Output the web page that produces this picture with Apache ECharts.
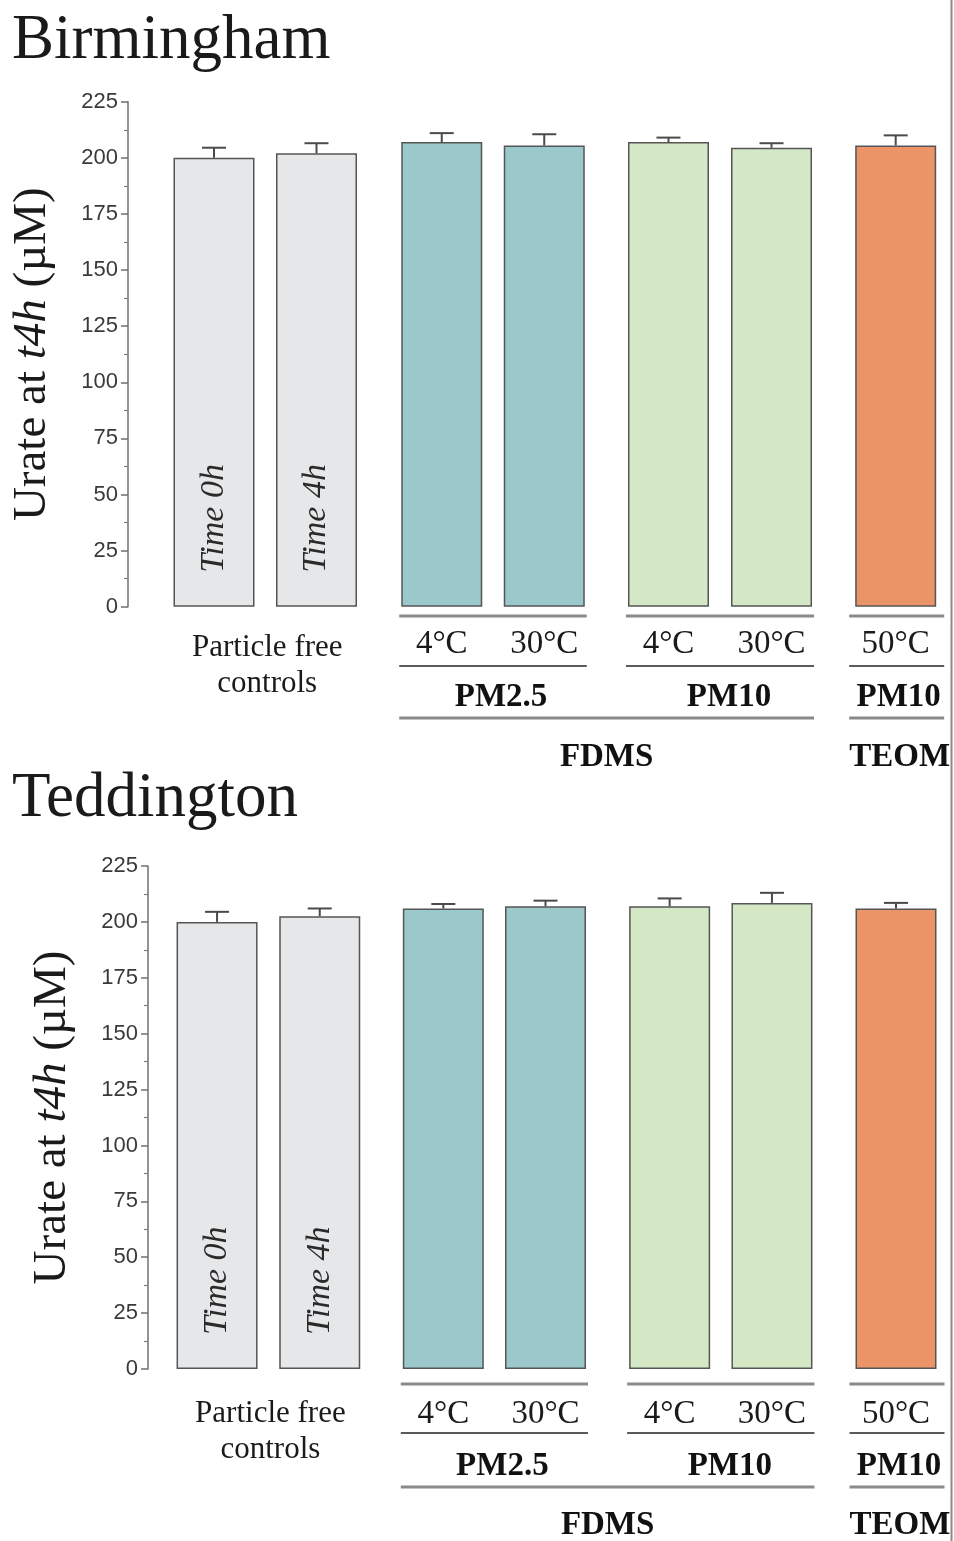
<!DOCTYPE html>
<html>
<head>
<meta charset="utf-8">
<script src="https://cdn.jsdelivr.net/npm/echarts@6/dist/echarts.min.js"></script>
<style>
  html, body { margin: 0; padding: 0; background: #fff; }
  #chart { width: 954px; height: 1541px; }
</style>
</head>
<body>
<div id="chart"></div>
<script>
// Treatment groups, conditions within each group, and samplers
const groupLabels = ['Particle free\ncontrols', 'PM2.5', 'PM10', 'PM10'];
const conditionLabels = [['Time 0h', 'Time 4h'], ['4°C', '30°C'], ['4°C', '30°C'], ['50°C']];
const instrumentLabels = ['FDMS', 'TEOM'];
const siteNames = ['Birmingham', 'Teddington'];

// Urate remaining at 4 h (µM): mean and error, in condition order
const birminghamMean = [200, 202, 207, 205.5, 207, 204.5, 205.5];
const birminghamErr = [4.5, 4.5, 4, 5, 2, 2, 4.5];
const teddingtonMean = [200, 202.5, 206, 207, 207, 208.5, 206];
const teddingtonErr = [4.5, 3.5, 2, 2.5, 3.5, 4.5, 2.5];

// Value axis
const yMin = 0, yMax = 225, yStep = 25;

// ---- styling / layout ----
const groupColors = ['#e6e7e9', '#9bc9cb', '#d4e8c6', '#ea9467'];
const serif = '"Liberation Serif", "DejaVu Serif", serif';
const sans = '"Liberation Sans", Arial, sans-serif';
const BAR_W = 81;

const panels = [
  { name: siteNames[0], mean: birminghamMean, err: birminghamErr,
    axisX: 128, top: 101.7, height: 505,
    boxes: [[162.75, 205], [390.5, 205], [617, 206], [844.2, 103]],
    titleY: 41, nameGap: 72, condGap: 38,
    line1: 616, line2: 666, groupY: 697, line3: 718, instY: 757, pfY: 666 },
  { name: siteNames[1], mean: teddingtonMean, err: teddingtonErr,
    axisX: 148, top: 866, height: 503,
    boxes: [[165.7, 205.4], [392.2, 204.4], [618.5, 204.6], [844.5, 103]],
    titleY: 799, nameGap: 72, condGap: 45,
    line1: 1384, line2: 1433, groupY: 1466, line3: 1487, instY: 1525, pfY: 1432 }
];
const groupLabelShift = [2, 8, 9, 3];
const lineExtend = [[0, 0], [2, 2], [2, 2], [6, 8]];

const grids = [], xAxes = [], yAxes = [], series = [], graphics = [];

function barSpan(box, n) {
  const band = box[1] / n;
  return [box[0] + band / 2 - BAR_W / 2, box[0] + box[1] - band / 2 + BAR_W / 2];
}

panels.forEach((p, pi) => {
  let offset = 0;
  p.boxes.forEach((box, gi) => {
    const cats = conditionLabels[gi];
    const n = cats.length;
    const idx = grids.length;
    const means = p.mean.slice(offset, offset + n);
    const errs = p.err.slice(offset, offset + n);
    offset += n;

    grids.push({ left: box[0], width: box[1], top: p.top, height: p.height,
                 containLabel: false, outerBoundsMode: 'none' });

    xAxes.push({
      type: 'category', gridIndex: idx, data: cats,
      axisLine: { show: false }, axisTick: { show: false },
      axisLabel: {
        show: gi > 0, interval: 0, margin: p.condGap, verticalAlign: 'middle',
        fontFamily: serif, fontSize: 33, color: '#1a1a1a'
      }
    });

    const isFirst = gi === 0;
    yAxes.push({
      type: 'value', gridIndex: idx, min: yMin, max: yMax, interval: yStep,
      show: isFirst,
      offset: isFirst ? box[0] - p.axisX : 0,
      axisLine: { show: true, lineStyle: { color: '#707070', width: 1.5 } },
      axisTick: { show: true, inside: false, length: 7, lineStyle: { color: '#707070', width: 1.5 } },
      minorTick: { show: true, splitNumber: 2, length: 4, lineStyle: { color: '#808080', width: 1.2 } },
      splitLine: { show: false },
      axisLabel: { margin: 10, fontFamily: sans, fontSize: 22, color: '#3a3a3a' },
      name: isFirst ? '{n|Urate at }{i|t4h}{n| (µM)}' : '',
      nameLocation: 'middle', nameGap: p.nameGap,
      nameTextStyle: {
        rich: {
          n: { fontFamily: serif, fontSize: 47, color: '#1a1a1a' },
          i: { fontFamily: serif, fontSize: 47, fontStyle: 'italic', color: '#1a1a1a' }
        }
      }
    });

    series.push({
      type: 'bar', xAxisIndex: idx, yAxisIndex: idx, barWidth: BAR_W,
      data: means,
      itemStyle: { color: groupColors[gi], borderColor: '#555', borderWidth: 1.5 },
      label: {
        show: gi === 0, formatter: '{b}', position: 'insideBottom',
        rotate: 90, align: 'left', verticalAlign: 'middle', distance: 34,
        fontFamily: serif, fontSize: 34, fontStyle: 'italic', color: '#2a2a2a'
      },
      silent: true
    });

    series.push({
      type: 'custom', xAxisIndex: idx, yAxisIndex: idx,
      data: means.map((m, i) => [i, m, errs[i]]),
      encode: { x: 0, y: 1 },
      renderItem: (params, api) => {
        const base = api.coord([api.value(0), api.value(1)]);
        const tip = api.coord([api.value(0), api.value(1) + api.value(2)]);
        const style = { stroke: '#4a4a4a', lineWidth: 2 };
        return { type: 'group', children: [
          { type: 'line', shape: { x1: base[0], y1: base[1], x2: tip[0], y2: tip[1] }, style },
          { type: 'line', shape: { x1: tip[0] - 12, y1: tip[1], x2: tip[0] + 12, y2: tip[1] }, style }
        ] };
      },
      silent: true, z: 3
    });

    // group annotations under the axis
    const span = barSpan(box, n);
    const x1 = span[0] - lineExtend[gi][0], x2 = span[1] + lineExtend[gi][1];
    const cx = box[0] + box[1] / 2 + groupLabelShift[gi];
    if (gi === 0) {
      graphics.push({ type: 'text', x: cx, y: p.pfY, style: {
        text: groupLabels[gi], align: 'center', verticalAlign: 'middle', lineHeight: 36,
        fontFamily: serif, fontSize: 31, fill: '#1a1a1a' } });
    } else {
      graphics.push({ type: 'line', shape: { x1, y1: p.line1, x2, y2: p.line1 },
        style: { stroke: '#8a8a8a', lineWidth: 3 } });
      graphics.push({ type: 'line', shape: { x1, y1: p.line2, x2, y2: p.line2 },
        style: { stroke: '#5a5a5a', lineWidth: 2 } });
      graphics.push({ type: 'text', x: cx, y: p.groupY, style: {
        text: groupLabels[gi], align: 'center', verticalAlign: 'middle',
        fontFamily: serif, fontSize: 33, fontWeight: 'bold', fill: '#111' } });
    }
  });

  // sampler lines and names
  const fd0 = barSpan(p.boxes[1], conditionLabels[1].length);
  const fd1 = barSpan(p.boxes[2], conditionLabels[2].length);
  const te = barSpan(p.boxes[3], conditionLabels[3].length);
  const fdx1 = fd0[0] - 2, fdx2 = fd1[1] + 2;
  const tex1 = te[0] - 6, tex2 = te[1] + 8;
  graphics.push({ type: 'line', shape: { x1: fdx1, y1: p.line3, x2: fdx2, y2: p.line3 },
    style: { stroke: '#8a8a8a', lineWidth: 3 } });
  graphics.push({ type: 'line', shape: { x1: tex1, y1: p.line3, x2: tex2, y2: p.line3 },
    style: { stroke: '#8a8a8a', lineWidth: 3 } });
  graphics.push({ type: 'text', x: (fdx1 + fdx2) / 2, y: p.instY, style: {
    text: instrumentLabels[0], align: 'center', verticalAlign: 'middle',
    fontFamily: serif, fontSize: 33, fontWeight: 'bold', fill: '#111' } });
  graphics.push({ type: 'text', x: (tex1 + tex2) / 2 + 3, y: p.instY, style: {
    text: instrumentLabels[1], align: 'center', verticalAlign: 'middle',
    fontFamily: serif, fontSize: 33, fontWeight: 'bold', fill: '#111' } });

  // site title
  graphics.push({ type: 'text', x: 12, y: p.titleY, style: {
    text: p.name, align: 'left', verticalAlign: 'middle',
    fontFamily: serif, fontSize: 63, fill: '#1a1a1a' } });
});

// frame line on the right edge
graphics.push({ type: 'line', shape: { x1: 951.5, y1: 0, x2: 951.5, y2: 1541 },
  style: { stroke: '#8a8a8a', lineWidth: 2 } });

const chart = echarts.init(document.getElementById('chart'), null, { renderer: 'canvas' });
chart.setOption({
  animation: false,
  backgroundColor: '#fff',
  grid: grids,
  xAxis: xAxes,
  yAxis: yAxes,
  series: series,
  graphic: { elements: graphics }
});
</script>
</body>
</html>
